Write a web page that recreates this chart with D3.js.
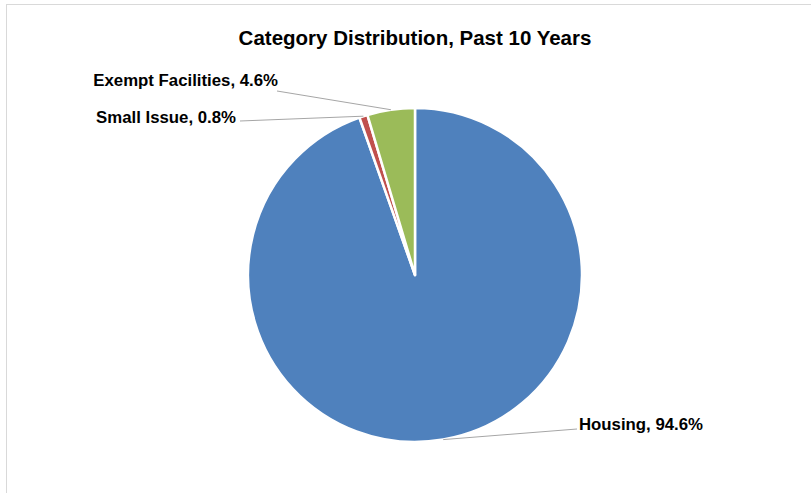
<!DOCTYPE html>
<html lang="en">
<head>
  <meta charset="UTF-8">
  <title>Category Distribution, Past 10 Years</title>
  <script src="https://d3js.org/d3.v7.min.js"></script>
  <style>
    body, html { margin: 0; padding: 0; background: #fff; }
    svg { display: block; }
    .title { font-family: "Liberation Sans", Arial, sans-serif; font-weight: bold; font-size: 20.5px; fill: #000; }
    .label { font-family: "Liberation Sans", Arial, sans-serif; font-weight: bold; font-size: 16.8px; fill: #000; }
    .leader { stroke: #a6a6a6; stroke-width: 1; fill: none; }
  </style>
</head>
<body>
  <svg id="chart" width="811" height="493"></svg>
  <script>
    // chart data
    const categories = ["Housing", "Small Issue", "Exempt Facilities"];
    const shares = [94.6, 0.8, 4.6];
    const colors = ["#4f81bd", "#c0504d", "#9bbb59"];
    const titleText = "Category Distribution, Past 10 Years";

    const width = 811, height = 493;
    const cx = 415, cy = 275, radius = 167;

    // label text position and leader start, relative to the pie centre
    const labelPos = [
      { tx: 164, ty: 155, lx: 162, ly: 154, anchor: "start" },
      { tx: -179, ty: -152, lx: -175, ly: -154, anchor: "end" },
      { tx: -137, ty: -189, lx: -138, ly: -184, anchor: "end" }
    ];

    const svg = d3.select("#chart");

    // faint frame of the original chart area
    svg.append("rect")
      .attr("x", 6.5).attr("y", 4.5)
      .attr("width", width + 10).attr("height", height + 10)
      .attr("fill", "none")
      .attr("stroke", "#d9d9d9");

    svg.append("text")
      .attr("class", "title")
      .attr("x", cx).attr("y", 45)
      .attr("text-anchor", "middle")
      .text(titleText);

    const data = categories.map((c, i) => ({ name: c, value: shares[i], color: colors[i] }));

    const pie = d3.pie().sort(null).value(d => d.value);
    const arcs = pie(data);
    const arc = d3.arc().innerRadius(0).outerRadius(radius);

    const g = svg.append("g").attr("transform", `translate(${cx},${cy})`);

    g.selectAll("path.slice")
      .data(arcs)
      .enter().append("path")
      .attr("class", "slice")
      .attr("d", arc)
      .attr("fill", d => d.data.color)
      .attr("stroke", "#fff")
      .attr("stroke-width", 2.5)
      .attr("stroke-linejoin", "round");

    // leader lines from each label to the middle of its slice's rim
    const edge = d3.arc().innerRadius(radius).outerRadius(radius);
    arcs.forEach((d, i) => {
      const p = edge.centroid(d);
      const lp = labelPos[i];
      g.append("path")
        .attr("class", "leader")
        .attr("d", d3.line()([[lp.lx, lp.ly], [p[0], p[1]]]));
      g.append("text")
        .attr("class", "label")
        .attr("x", lp.tx)
        .attr("y", lp.ty)
        .attr("text-anchor", lp.anchor)
        .text(`${d.data.name}, ${d.data.value.toFixed(1)}%`);
    });
  </script>
</body>
</html>
